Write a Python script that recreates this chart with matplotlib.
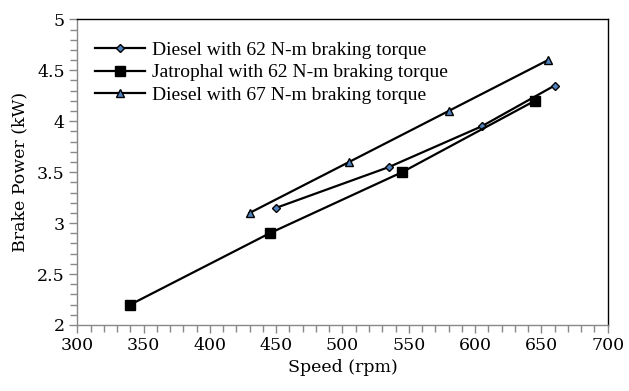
import matplotlib
matplotlib.use("Agg")
import matplotlib.pyplot as plt
from matplotlib.ticker import MultipleLocator

# Data
diesel62_x = [450, 535, 605, 660]
diesel62_y = [3.15, 3.55, 3.95, 4.35]
jatropha62_x = [340, 445, 545, 645]
jatropha62_y = [2.2, 2.9, 3.5, 4.2]
diesel67_x = [430, 505, 580, 655]
diesel67_y = [3.1, 3.6, 4.1, 4.6]
labels = ["Diesel with 62 N-m braking torque",
          "Jatrophal with 62 N-m braking torque",
          "Diesel with 67 N-m braking torque"]
yticks = [2, 2.5, 3, 3.5, 4, 4.5, 5]
ytick_labels = ["2", "2.5", "3", "3.5", "4", "4.5", "5"]

fig = plt.figure(figsize=(6.29, 3.91), dpi=100)
ax = fig.add_axes([0.1229, 0.1688, 0.8432, 0.7818])

blue = "#4F81BD"
ax.plot(diesel62_x, diesel62_y, color="black", lw=1.6, marker="D", ms=4.5,
        mfc=blue, mec="black", mew=1.0, label=labels[0])
ax.plot(jatropha62_x, jatropha62_y, color="black", lw=1.6, marker="s", ms=7,
        mfc="black", mec="black", label=labels[1])
ax.plot(diesel67_x, diesel67_y, color="black", lw=1.6, marker="^", ms=6,
        mfc=blue, mec="black", mew=1.0, label=labels[2])

ax.set_xlim(300, 700)
ax.set_ylim(2, 5)
ax.xaxis.set_major_locator(MultipleLocator(50))
ax.xaxis.set_minor_locator(MultipleLocator(10))
ax.yaxis.set_minor_locator(MultipleLocator(0.1))
ax.set_yticks(yticks)
ax.set_yticklabels(ytick_labels)

for lab in ax.get_xticklabels() + ax.get_yticklabels():
    lab.set_fontfamily("DejaVu Serif")
    lab.set_fontsize(12.5)

ax.tick_params(which="both", direction="out", color="#888888", width=1)
ax.tick_params(which="major", length=6, pad=3)
ax.tick_params(which="minor", length=5)
ax.spines["left"].set_color("#888888")
ax.spines["bottom"].set_color("#888888")
ax.spines["top"].set_color("black")
ax.spines["right"].set_color("black")
for s in ax.spines.values():
    s.set_linewidth(1)

ax.set_xlabel("Speed (rpm)", fontfamily="DejaVu Serif", fontsize=12.5, labelpad=3)
ax.set_ylabel("Brake Power (kW)", fontfamily="DejaVu Serif", fontsize=12.5, labelpad=6)

leg = ax.legend(loc="upper left", bbox_to_anchor=(0.0, 0.985), frameon=False,
                prop=dict(family="Liberation Serif", size=14),
                handlelength=2.6, handletextpad=0.35, labelspacing=0.25,
                borderaxespad=0.5)

fig.savefig("out.png", dpi=100)
